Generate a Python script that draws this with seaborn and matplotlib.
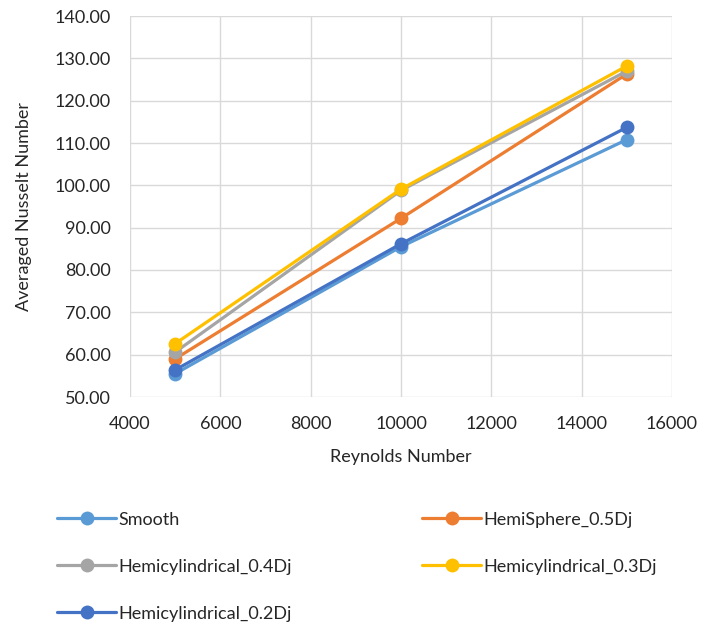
import numpy as np
import pandas as pd
import seaborn as sns
import matplotlib.pyplot as plt

reynolds = [5000, 10000, 15000]
smooth = [55.5, 85.5, 110.8]
hemisphere_05 = [59.0, 92.2, 126.3]
hemicyl_04 = [60.6, 98.8, 127.0]
hemicyl_03 = [62.6, 99.1, 128.2]
hemicyl_02 = [56.4, 86.2, 113.7]

series_names = ['Smooth', 'HemiSphere_0.5Dj', 'Hemicylindrical_0.4Dj',
                'Hemicylindrical_0.3Dj', 'Hemicylindrical_0.2Dj']
series_values = [smooth, hemisphere_05, hemicyl_04, hemicyl_03, hemicyl_02]
colors = ['#5B9BD5', '#ED7D31', '#A5A5A5', '#FFC000', '#4472C4']


def set_style():
    sns.set_style("white")
    plt.rcParams.update({
        'font.family': ['Lato', 'DejaVu Sans'],
        'font.size': 13,
        'xtick.labelsize': 13,
        'ytick.labelsize': 13,
        'axes.labelsize': 13,
    })


def main():
    set_style()
    df = pd.DataFrame({
        'Reynolds Number': np.tile(reynolds, len(series_names)),
        'Nu': np.concatenate(series_values),
        'series': np.repeat(series_names, len(reynolds)),
    })

    fig = plt.figure(figsize=(7.07, 6.28), dpi=100)
    ax = fig.add_axes([130 / 707, 1 - 397 / 628, 542 / 707, 381 / 628])

    sns.lineplot(data=df, x='Reynolds Number', y='Nu', hue='series',
                 hue_order=series_names, palette=colors, marker='o',
                 markersize=10, markeredgewidth=0, linewidth=2.3, ax=ax)

    ax.set_xlim(4000, 16000)
    ax.set_ylim(50, 140)
    ax.set_xticks(np.arange(4000, 16001, 2000))
    ax.set_yticks(np.arange(50, 141, 10))
    ax.set_yticklabels([f"{v:.2f}" for v in np.arange(50, 141, 10)])
    ax.grid(True, color='#D9D9D9', linewidth=1)
    ax.set_axisbelow(True)
    for s in ax.spines.values():
        s.set_visible(False)
    ax.tick_params(axis='x', length=0, pad=14, colors='#262626')
    ax.tick_params(axis='y', length=0, pad=14, colors='#262626')
    ax.set_xlabel('Reynolds Number', color='#262626', labelpad=12)
    ax.set_ylabel('Averaged Nusselt Number', color='#262626', labelpad=16)

    handles, labels = ax.get_legend_handles_labels()
    lookup = dict(zip(labels, handles))
    order = ['Smooth', 'Hemicylindrical_0.4Dj', 'Hemicylindrical_0.2Dj',
             'HemiSphere_0.5Dj', 'Hemicylindrical_0.3Dj']
    ax.legend([lookup[o] for o in order], order, ncol=2, frameon=False,
              loc='upper left', bbox_to_anchor=(-0.165, -0.258),
              columnspacing=7.2, labelspacing=1.72, handlelength=3.3,
              handletextpad=0.1, fontsize=13)

    plt.savefig('out.png', dpi=100)


if __name__ == "__main__":
    main()
